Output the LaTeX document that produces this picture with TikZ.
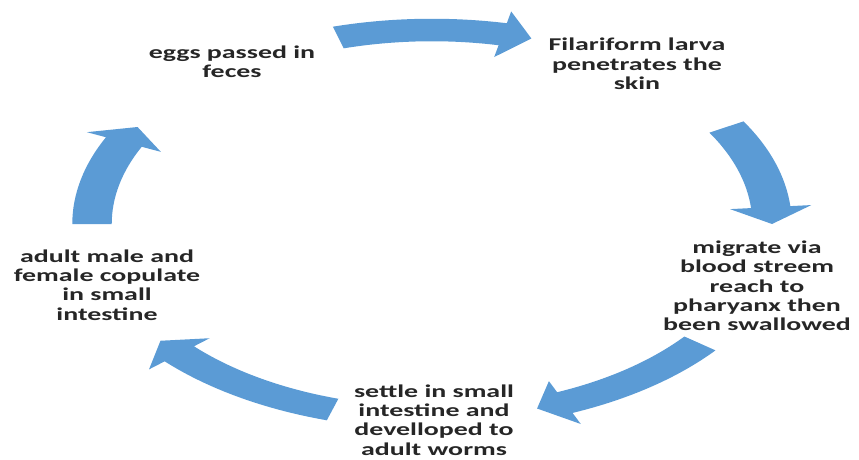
\documentclass[tikz,border=0pt]{standalone}
\usepackage{fontspec}
\setmainfont{Carlito}[FakeStretch=1.55]
\usetikzlibrary{positioning}
\definecolor{cycleblue}{HTML}{5B9BD5}

\begin{document}
\begin{tikzpicture}[
    x=1pt, y=1pt,
    font=\fontsize{18}{19.3}\selectfont\bfseries,
    stage/.style={align=center, text=black!85, inner sep=2pt},
    cyclearrow/.style={fill=cycleblue, draw=none}
]
\useasboundingbox (0,0) rectangle (859,459);
\node[stage] (eggs) at (232,397) {eggs passed in\\feces};
\node[stage] (larva) at (637,395) {Filariform larva\\penetrates the\\skin};
\node[stage] (migr) at (757,173) {migrate via\\blood streem\\reach to\\pharyanx then\\been swallowed};
\node[stage] (settle) at (434,39) {settle in small\\intestine and\\develloped to\\adult worms};
\node[stage] (adult) at (107,174) {adult male and\\female copulate\\in small\\intestine};
% curved block arrows round the cycle: tail angle / tip angle
\begin{scope}[shift={(432,235)}, x=340pt, y=194pt]
\foreach \a/\b in {106/73, 30/0, -38/-72, -107/-143, 180/150}{
  \pgfmathsetmacro{\h}{\b+5}
  \fill[cyclearrow] (\a:0.942) arc[start angle=\a, end angle=\h, radius=0.942]
    -- (\h:0.88) -- (\b:1) -- (\h:1.12) -- (\h:1.058)
    arc[start angle=\h, end angle=\a, radius=1.058] -- cycle;
}
\end{scope}
\end{tikzpicture}
\end{document}
